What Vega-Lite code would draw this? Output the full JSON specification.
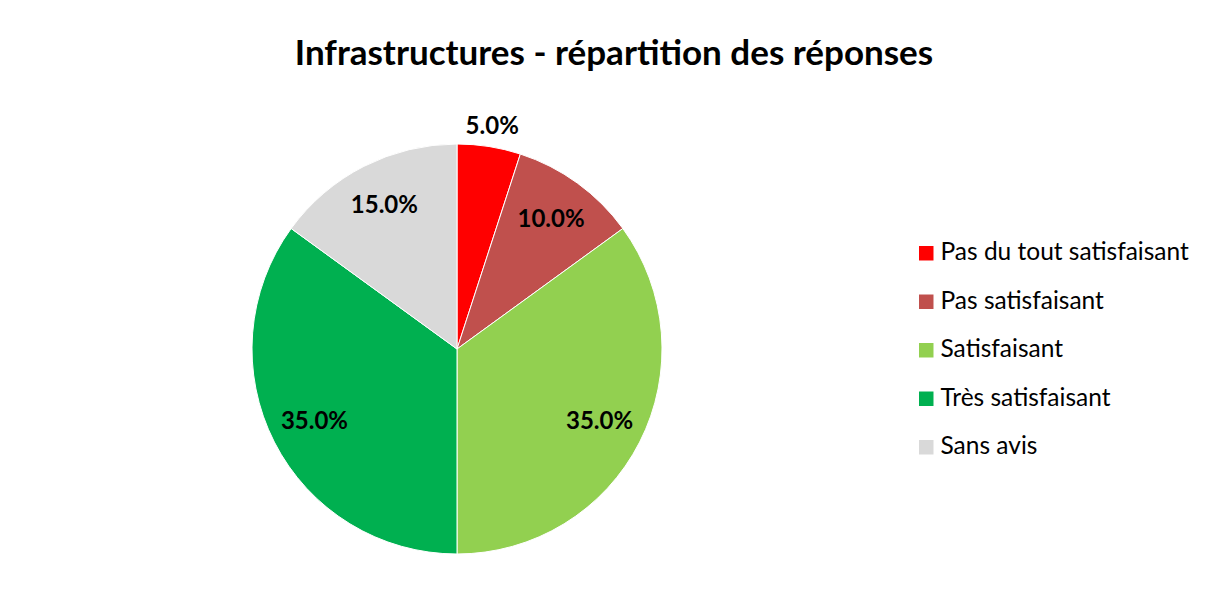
{
  "$schema": "https://vega.github.io/schema/vega-lite/v6.json",
  "autosize": "none",
  "width": 500,
  "height": 500,
  "padding": {"left": 207, "top": 99, "right": 501, "bottom": 8},
  "background": "white",
  "config": {"view": {"stroke": null}, "font": "Lato"},
  "title": {
    "text": "Infrastructures - répartition des réponses",
    "font": "Lato",
    "fontSize": 35,
    "fontWeight": "bold",
    "color": "#000000",
    "anchor": "middle",
    "dx": 157,
    "baseline": "alphabetic",
    "offset": -1,
    "limit": 1100
  },
  "data": {
    "values": [
      {"reponse": "Pas du tout satisfaisant", "pct": 0.05, "rang": 1},
      {"reponse": "Pas satisfaisant", "pct": 0.10, "rang": 2},
      {"reponse": "Satisfaisant", "pct": 0.35, "rang": 3},
      {"reponse": "Très satisfaisant", "pct": 0.35, "rang": 4},
      {"reponse": "Sans avis", "pct": 0.15, "rang": 5}
    ]
  },
  "encoding": {
    "theta": {"field": "pct", "type": "quantitative", "stack": true},
    "order": {"field": "rang", "type": "quantitative"}
  },
  "layer": [
    {
      "mark": {"type": "arc", "radius": 205, "stroke": "white", "strokeWidth": 1},
      "encoding": {
        "color": {
          "field": "reponse",
          "type": "nominal",
          "scale": {
            "domain": ["Pas du tout satisfaisant", "Pas satisfaisant", "Satisfaisant", "Très satisfaisant", "Sans avis"],
            "range": ["#FF0000", "#C0504D", "#92D050", "#00B050", "#D9D9D9"]
          },
          "legend": {
            "title": null,
            "orient": "none",
            "legendX": 707,
            "legendY": 142,
            "symbolType": "square",
            "symbolSize": 210,
            "symbolStrokeWidth": 0,
            "labelFont": "Lato",
            "labelFontSize": 24.5,
            "labelColor": "#000000",
            "labelOffset": 2,
            "rowPadding": 23.5,
            "padding": 0,
            "labelLimit": 400
          }
        }
      }
    },
    {
      "mark": {"type": "text", "font": "Lato", "fontSize": 24, "fontWeight": "bold", "color": "#000000"},
      "encoding": {
        "text": {"field": "pct", "type": "quantitative", "format": ".1%"},
        "radius": {"field": "pct", "type": "quantitative", "scale": {"type": "linear", "domain": [0.05, 0.1], "range": [225, 160], "clamp": true, "zero": false}}
      }
    }
  ]
}
